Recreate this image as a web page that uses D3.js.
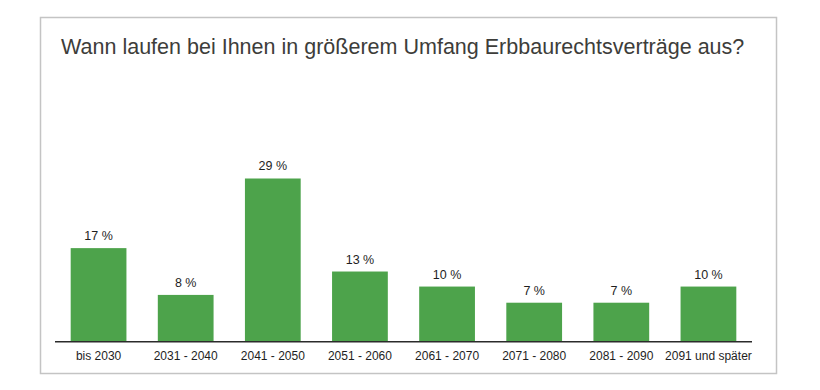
<!DOCTYPE html>
<html>
<head>
<meta charset="utf-8">
<script src="https://cdn.jsdelivr.net/npm/d3@7"></script>
<style>
  html, body { margin: 0; padding: 0; background: #ffffff; }
  svg { display: block; }
  text { font-family: "Liberation Sans", Arial, sans-serif; }
</style>
</head>
<body>
<svg id="chart" width="820" height="390"></svg>
<script>
const title = "Wann laufen bei Ihnen in größerem Umfang Erbbaurechtsverträge aus?";
const categories = ["bis 2030", "2031 - 2040", "2041 - 2050", "2051 - 2060", "2061 - 2070", "2071 - 2080", "2081 - 2090", "2091 und später"];
const values = [16.8, 8.4, 29.3, 12.6, 9.9, 7.0, 7.0, 9.9];
const valueLabels = ["17 %", "8 %", "29 %", "13 %", "10 %", "7 %", "7 %", "10 %"];

const svg = d3.select("#chart");

// frame
svg.append("rect")
  .attr("x", 40.5).attr("y", 17.5)
  .attr("width", 736).attr("height", 356)
  .attr("fill", "#ffffff")
  .attr("stroke", "#c4c4c4")
  .attr("stroke-width", 1.5);

// title
const t = svg.append("text")
  .attr("x", 61).attr("y", 54)
  .attr("fill", "#3d3d3a")
  .attr("font-size", 21)
  .text(title);
const targetW = 684;
const w0 = t.node().getComputedTextLength();
if (w0 > 0) t.attr("font-size", 21 * targetW / w0);

const x = d3.scaleBand()
  .domain(categories)
  .range([55, 752])
  .paddingInner(0.36)
  .paddingOuter(0.18);

const y = d3.scaleLinear()
  .domain([0, 30])
  .range([341.7, 341.7 - 30 * 5.57]);

svg.append("g")
  .selectAll("rect")
  .data(values)
  .join("rect")
  .attr("x", (d, i) => x(categories[i]))
  .attr("y", d => y(d))
  .attr("width", x.bandwidth())
  .attr("height", d => y(0) - y(d))
  .attr("fill", "#4da34b");

svg.append("g")
  .selectAll("text")
  .data(values)
  .join("text")
  .attr("x", (d, i) => x(categories[i]) + x.bandwidth() / 2)
  .attr("y", d => y(d) - 8)
  .attr("text-anchor", "middle")
  .attr("font-size", 12.5)
  .attr("fill", "#1e1e1e")
  .text((d, i) => valueLabels[i]);

const axis = svg.append("g")
  .attr("transform", `translate(0,${y(0)})`)
  .call(d3.axisBottom(x).tickSize(0).tickPadding(10));
axis.select(".domain")
  .attr("stroke", "#2b2b2b")
  .attr("stroke-width", 1.5)
  .attr("d", "M55,0H752");
axis.selectAll("text")
  .attr("font-size", 12)
  .attr("fill", "#1e1e1e")
  .style("font-family", "'Liberation Sans', Arial, sans-serif");
</script>
</body>
</html>
